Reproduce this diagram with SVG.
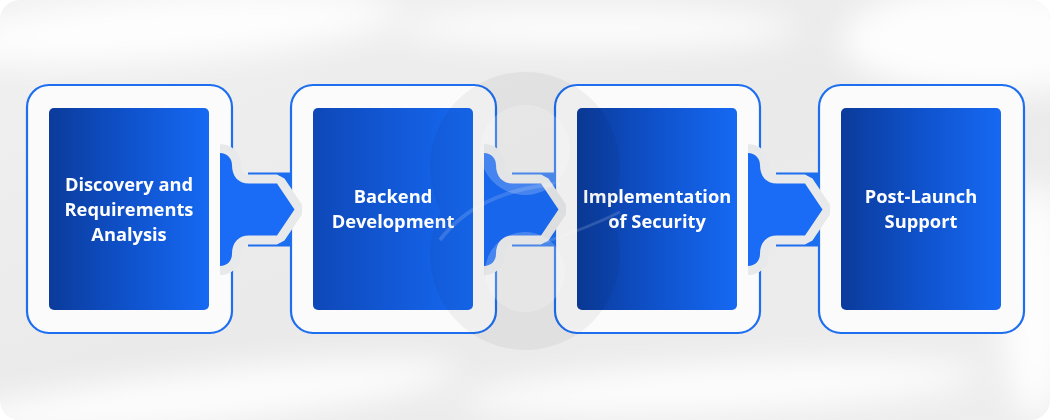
<svg xmlns="http://www.w3.org/2000/svg" width="1050" height="420" viewBox="0 0 1050 420">
  <defs>
    <linearGradient id="gIn" x1="0" y1="0" x2="1" y2="0">
      <stop offset="0" stop-color="#0b3b9b"/>
      <stop offset="0.5" stop-color="#0f52cc"/>
      <stop offset="1" stop-color="#1669f3"/>
    </linearGradient>
    <linearGradient id="gIn2" x1="0" y1="0" x2="1" y2="0">
      <stop offset="0" stop-color="#0e48b8"/>
      <stop offset="0.5" stop-color="#1258d6"/>
      <stop offset="1" stop-color="#1669f2"/>
    </linearGradient>
    <linearGradient id="gBg" x1="0" y1="0" x2="1" y2="1">
      <stop offset="0" stop-color="#f1f1f1"/>
      <stop offset="0.5" stop-color="#eaeaea"/>
      <stop offset="1" stop-color="#eeeeee"/>
    </linearGradient>
    <filter id="blur" x="-50%" y="-50%" width="200%" height="200%">
      <feGaussianBlur stdDeviation="16"/>
    </filter>
    <clipPath id="clipRight">
      <rect x="220" y="0" width="200" height="420"/>
    </clipPath>
    <clipPath id="canvas">
      <rect x="0" y="0" width="1050" height="420" rx="20"/>
    </clipPath>
    <path id="arrowShape" d="M220,153 C227,153 232,158 232,165 C232,176 238,183.5 249,183.5 L277,183.5 L294.5,209.5 L277,235.5 L249,235.5 C238,235.5 232,243 232,254 C232,261 227,266 220,266 Z"/>
    <style>
      .outer { fill: #fbfbfc; stroke: #1e6ff0; stroke-width: 2.2; }
      .inner { fill: url(#gIn); }
      .t { fill: #ffffff; font-family: "Open Sans", "Liberation Sans", sans-serif; font-weight: 700; font-size: 18.3px; text-anchor: middle; }
      .band { fill: #1e6ff0; }
      .gap { fill: #e8e9eb; stroke: #e8e9eb; stroke-width: 18; stroke-linejoin: bevel; }
      .fillA { fill: #1a6cf7; }
    </style>
  </defs>

  <rect x="0" y="0" width="1050" height="420" fill="#ffffff"/>
  <g id="background" clip-path="url(#canvas)">
    <rect x="0" y="0" width="1050" height="420" fill="url(#gBg)"/>
    <g filter="url(#blur)" fill="#ffffff" opacity="0.9">
      <ellipse cx="170" cy="28" rx="230" ry="32" transform="rotate(-4 170 28)"/>
      <ellipse cx="990" cy="40" rx="150" ry="55"/>
      <ellipse cx="200" cy="398" rx="260" ry="26" transform="rotate(-6 200 398)"/>
      <ellipse cx="720" cy="388" rx="260" ry="24" transform="rotate(-3 720 388)"/>
      <ellipse cx="1035" cy="300" rx="35" ry="120"/>
      <ellipse cx="600" cy="28" rx="200" ry="20"/>
    </g>
  </g>

  <g id="node-1">
    <rect class="outer" x="27" y="85" width="205" height="248" rx="22"/>
    <rect class="inner" x="49" y="108" width="160" height="202" rx="5"/>
    <text class="t" x="129" y="191">Discovery and</text>
    <text class="t" x="129" y="216">Requirements</text>
    <text class="t" x="129" y="241">Analysis</text>
  </g>

  <g id="node-2">
    <rect class="outer" x="291" y="85" width="205" height="248" rx="22"/>
    <rect x="313" y="108" width="160" height="202" rx="5" fill="url(#gIn2)"/>
    <text class="t" x="393" y="203">Backend</text>
    <text class="t" x="393" y="228">Development</text>
  </g>

  <g id="node-3">
    <rect class="outer" x="555" y="85" width="205" height="248" rx="22"/>
    <rect class="inner" x="577" y="108" width="160" height="202" rx="5"/>
    <text class="t" x="657" y="203">Implementation</text>
    <text class="t" x="657" y="228">of Security</text>
  </g>

  <g id="node-4">
    <rect class="outer" x="819" y="85" width="205" height="248" rx="22"/>
    <rect class="inner" x="841" y="108" width="160" height="202" rx="5"/>
    <text class="t" x="921" y="203">Post-Launch</text>
    <text class="t" x="921" y="228">Support</text>
  </g>

  <g id="connectors">
    <g id="conn-1-2">
      <rect class="band" x="248" y="172.5" width="44" height="74"/>
      <use href="#arrowShape" class="gap" clip-path="url(#clipRight)"/>
      <use href="#arrowShape" class="fillA"/>
    </g>
    <g id="conn-2-3" transform="translate(264 0)">
      <rect class="band" x="248" y="172.5" width="44" height="74"/>
      <use href="#arrowShape" class="gap" clip-path="url(#clipRight)"/>
      <use href="#arrowShape" class="fillA"/>
    </g>
    <g id="conn-3-4" transform="translate(528 0)">
      <rect class="band" x="248" y="172.5" width="44" height="74"/>
      <use href="#arrowShape" class="gap" clip-path="url(#clipRight)"/>
      <use href="#arrowShape" class="fillA"/>
    </g>
  </g>

  <g id="watermark">
    <g opacity="0.045" fill="#000000">
      <circle cx="525" cy="167" r="95"/>
      <circle cx="525" cy="255" r="95"/>
    </g>
    <g opacity="0.2" fill="#ffffff">
      <circle cx="525" cy="150" r="45"/>
      <circle cx="525" cy="272" r="40"/>
    </g>
    <path d="M440,240 C470,200 520,186 560,184" fill="none" stroke="#ffffff" stroke-width="4" opacity="0.15"/>
    <path d="M545,242 C575,232 600,222 620,212" fill="none" stroke="#ffffff" stroke-width="3" opacity="0.15"/>
  </g>
</svg>
